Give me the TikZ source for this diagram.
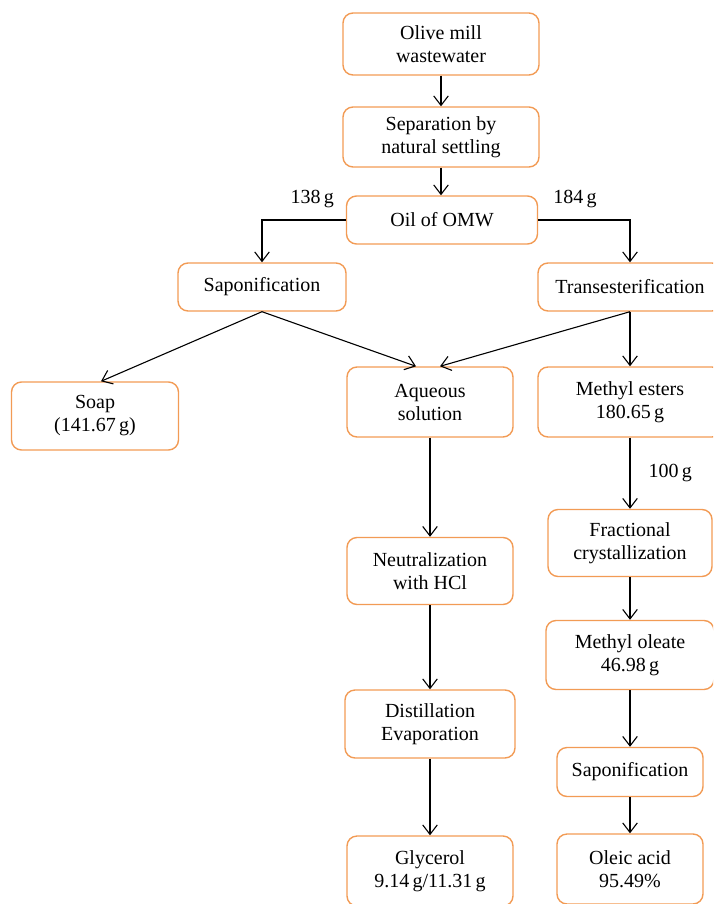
\documentclass[tikz,border=0pt]{standalone}
\usepackage{fontspec}
\setmainfont{Liberation Serif}
\usepackage{tikz}
\usetikzlibrary{arrows.meta}

\definecolor{boxorange}{RGB}{242,155,85}
\tikzset{
  stage/.style={draw=boxorange, line width=0.7pt, rounded corners=5pt,
    align=center, inner sep=2pt, font=\fontsize{10}{11.5}\selectfont},
  flow/.style={->, line width=0.55pt},
  mass/.style={font=\fontsize{10}{11.5}\selectfont, inner sep=1pt}
}

\begin{document}
\begin{tikzpicture}[x=0.5pt, y=-0.5pt, >={Straight Barb[angle=75:6pt]}]
\useasboundingbox (0,0) rectangle (713,904);
\clip (0,0) rectangle (713,904);
% main line
\node [stage, minimum width=98pt, minimum height=31pt] (omw) at (441,44) {Olive mill\\wastewater};
\node [stage, minimum width=98pt, minimum height=30pt] (settle) at (441,137) {Separation by\\natural settling};
\node [stage, minimum width=95.5pt, minimum height=24pt] (oil) at (442,220) {Oil of OMW};
% two routes
\node [stage, minimum width=84pt, minimum height=24pt] (sapo) at (262,287) {Saponification};
\node [stage, minimum width=92pt, minimum height=24pt] (trans) at (630,287) {Transesterification};
\node [stage, minimum width=83.5pt, minimum height=34pt] (soap) at (95,416) {Soap\\(141.67\,g)};
\node [stage, minimum width=83pt, minimum height=35pt] (aq) at (430,402) {Aqueous\\solution};
\node [stage, minimum width=92pt, minimum height=35pt] (esters) at (630,402) {Methyl esters\\180.65\,g};
% glycerol branch
\node [stage, minimum width=83pt, minimum height=33.5pt] (neut) at (430,571) {Neutralization\\with HCl};
\node [stage, minimum width=85pt, minimum height=34pt] (dist) at (430,724) {Distillation\\Evaporation};
\node [stage, minimum width=83pt, minimum height=35pt] (glyc) at (430,871) {Glycerol\\9.14\,g/11.31\,g};
% oleic acid branch
\node [stage, minimum width=82pt, minimum height=33.5pt] (frac) at (630,543) {Fractional\\crystallization};
\node [stage, minimum width=84pt, minimum height=34.5pt] (oleate) at (630,655) {Methyl oleate\\46.98\,g};
\node [stage, minimum width=73pt, minimum height=24.5pt] (sapoacid) at (630,772) {Saponification};
\node [stage, minimum width=73pt, minimum height=35pt] (oleic) at (630,869) {Oleic acid\\95.49\%};

\draw [flow] (omw) -- (settle);
\draw [flow] (settle.south) -- (settle.south |- oil.north);
\draw [flow] (oil.west) -| node [mass, pos=0.2, above=5pt] {138\,g} (sapo.north);
\draw [flow] (oil.east) -| node [mass, pos=0.2, above=5pt] {184\,g} (trans.north);
\draw [flow] (sapo.south) -- ([xshift=3pt]soap.north);
\draw [flow] (sapo.south) -- ([xshift=-7pt]aq.north);
\draw [flow] (trans.south) -- ([xshift=5pt]aq.north);
\draw [flow] (trans.south) -- (esters.north);
\draw [flow] (aq) -- (neut);
\draw [flow] (neut) -- (dist);
\draw [flow] (dist) -- (glyc);
\draw [flow] (esters) -- node [mass, right=8pt] {100\,g} (frac);
\draw [flow] (frac) -- (oleate);
\draw [flow] (oleate) -- (sapoacid);
\draw [flow] (sapoacid) -- (oleic);
\end{tikzpicture}
\end{document}
